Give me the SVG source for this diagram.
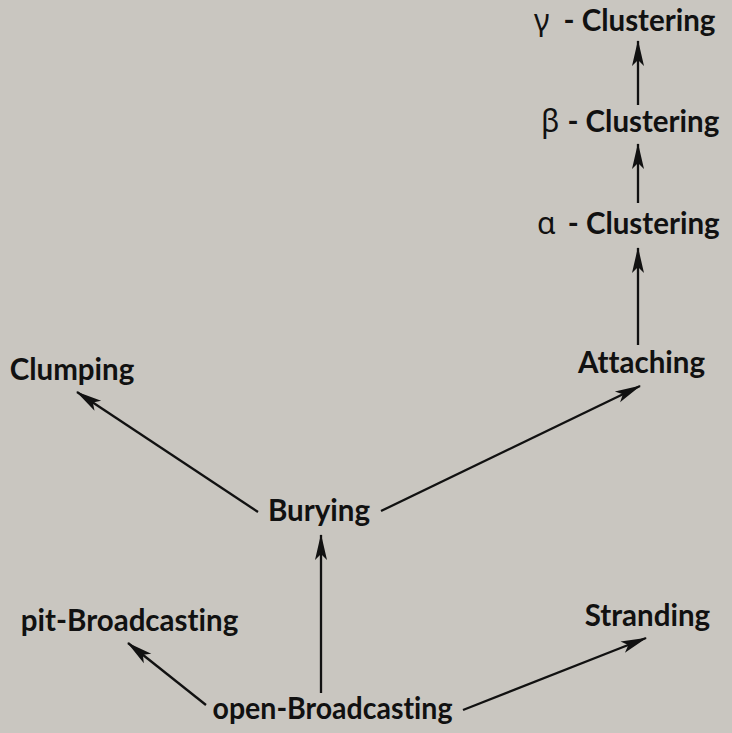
<svg xmlns="http://www.w3.org/2000/svg" width="732" height="733" viewBox="0 0 732 733">
<defs>
<style>
.lbl{font-family:Lato,"Open Sans","Liberation Sans",sans-serif;font-weight:bold;font-size:29.5px;fill:#111;font-variant-ligatures:none;}
.gr{font-family:"Noto Sans","DejaVu Sans",sans-serif;font-weight:normal;font-size:30px;}
.edge{stroke:#111;stroke-width:2.3;fill:none;marker-end:url(#ah);}
</style>
<marker id="ah" viewBox="-27 -7 29 14" refX="0" refY="0" markerWidth="29" markerHeight="14" markerUnits="userSpaceOnUse" orient="auto">
<path d="M1,0 L-25,-6 L-19,0 L-25,6 Z" fill="#111"/>
</marker>
</defs>
<rect width="732" height="733" fill="#c9c6c0"/>
<g id="connectors">
<line class="edge" x1="638" y1="105" x2="638" y2="41"/>
<line class="edge" x1="638" y1="203" x2="638" y2="144"/>
<line class="edge" x1="638" y1="345" x2="638" y2="248"/>
<line class="edge" x1="381" y1="511" x2="640" y2="386"/>
<line class="edge" x1="258" y1="512" x2="77" y2="392"/>
<line class="edge" x1="321" y1="693" x2="321" y2="535"/>
<line class="edge" x1="206" y1="705" x2="128" y2="643"/>
<line class="edge" x1="463" y1="710" x2="646" y2="638"/>
</g>
<g id="gamma"><text class="lbl" x="534" y="31"><tspan class="gr">γ</tspan><tspan dx="14">- Clustering</tspan></text></g>
<g id="beta"><text class="lbl" x="541" y="132"><tspan class="gr">β</tspan><tspan dx="8">- Clustering</tspan></text></g>
<g id="alpha"><text class="lbl" x="537" y="234"><tspan class="gr">α</tspan><tspan dx="12">- Clustering</tspan></text></g>
<g id="attaching"><text class="lbl" x="641.5" y="373" text-anchor="middle">Attaching</text></g>
<g id="clumping"><text class="lbl" x="72" y="380" text-anchor="middle">Clumping</text></g>
<g id="burying"><text class="lbl" x="319" y="521" text-anchor="middle">Burying</text></g>
<g id="pit"><text class="lbl" x="129.5" y="631" text-anchor="middle">pit-Broadcasting</text></g>
<g id="stranding"><text class="lbl" x="647.5" y="626" text-anchor="middle">Stranding</text></g>
<g id="open"><text class="lbl" x="332.5" y="719" text-anchor="middle" textLength="240" lengthAdjust="spacingAndGlyphs">open-Broadcasting</text></g>
</svg>
